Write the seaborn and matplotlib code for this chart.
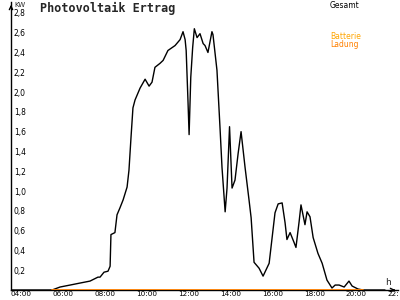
import matplotlib
matplotlib.use("Agg")
import matplotlib.pyplot as plt
from matplotlib.transforms import ScaledTranslation
import seaborn as sns
import pandas as pd

# --- data (hours of day, kW) ---
pv_hours = [3.88, 5.84, 6.22, 6.70, 7.17, 7.65, 8.03, 8.13, 8.32, 8.51, 8.61, 8.65,
            8.84, 8.94, 9.08, 9.23, 9.42, 9.51, 9.61, 9.70, 9.80, 10.04, 10.28, 10.47,
            10.61, 10.75, 10.99, 11.14, 11.37, 11.71, 11.95, 12.09, 12.19, 12.24,
            12.33, 12.38, 12.46, 12.55, 12.63, 12.76, 12.90, 13.05, 13.14, 13.28,
            13.47, 13.52, 13.71, 13.86, 13.95, 14.10, 14.19, 14.31, 14.43, 14.57,
            14.72, 14.86, 15.05, 15.24, 15.34, 15.48, 15.72, 15.91, 16.20, 16.48,
            16.63, 16.82, 16.96, 17.05, 17.20, 17.39, 17.48, 17.63, 17.72, 17.91,
            18.01, 18.15, 18.30, 18.53, 18.73, 18.96, 19.20, 19.35, 19.54, 19.78,
            20.01, 20.16, 20.44, 20.68, 21.73]
pv_kw = [0.00, 0.00, 0.03, 0.05, 0.07, 0.09, 0.13, 0.13, 0.18, 0.19, 0.24, 0.56,
         0.58, 0.76, 0.83, 0.91, 1.04, 1.21, 1.55, 1.84, 1.92, 2.04, 2.13, 2.06,
         2.10, 2.25, 2.29, 2.32, 2.42, 2.47, 2.53, 2.61, 2.53, 2.42,
         1.89, 1.57, 2.15, 2.45, 2.64, 2.55, 2.59, 2.49, 2.47, 2.40,
         2.61, 2.58, 2.22, 1.62, 1.24, 0.79, 1.03, 1.65, 1.03, 1.11,
         1.38, 1.60, 1.24, 0.91, 0.73, 0.28, 0.22, 0.14, 0.27, 0.78,
         0.87, 0.88, 0.68, 0.51, 0.58, 0.48, 0.43, 0.69, 0.86, 0.66,
         0.79, 0.74, 0.53, 0.37, 0.27, 0.10, 0.02, 0.05, 0.05, 0.03,
         0.09, 0.04, 0.01, 0.00, 0.00]
bat_hours = [5.84, 20.68]
bat_kw = [0.00, 0.00]

x_ticks = [4, 6, 8, 10, 12, 14, 16, 18, 20, 22]
x_labels = ["04:00", "06:00", "08:00", "10:00", "12:00", "14:00", "16:00",
            "18:00", "20:00", "22:"]
y_ticks = [0.2, 0.4, 0.6, 0.8, 1.0, 1.2, 1.4, 1.6, 1.8, 2.0, 2.2, 2.4, 2.6, 2.8]
y_labels = ["0,2", "0,4", "0,6", "0,8", "1,0", "1,2", "1,4", "1,6", "1,8",
            "2,0", "2,2", "2,4", "2,6", "2,8"]

title = "Photovoltaik Ertrag"
legend_total = "Gesamt"
legend_bat1 = "Batterie"
legend_bat2 = "Ladung"

sns.set_style("white")
plt.rcParams["font.family"] = ["DejaVu Sans"]

fig = plt.figure(figsize=(4, 3), dpi=100)
ax = fig.add_axes([11 / 400, 10 / 300, 387 / 400, 288 / 300])

df_pv = pd.DataFrame({"t": pv_hours, "kw": pv_kw})
df_bat = pd.DataFrame({"t": bat_hours, "kw": bat_kw})

sns.lineplot(data=df_pv, x="t", y="kw", ax=ax, color="black", linewidth=1.0,
             estimator=None, sort=False, zorder=3)
sns.lineplot(data=df_bat, x="t", y="kw", ax=ax, color="#ff8000", linewidth=1.3,
             estimator=None, sort=False, zorder=4)

ax.set_xlim(3.88, 22.35)
ax.set_ylim(0, 2.91)
ax.set_xlabel("")
ax.set_ylabel("")

for s in ["top", "right"]:
    ax.spines[s].set_visible(False)
for s in ["left", "bottom"]:
    ax.spines[s].set_color("black")
    ax.spines[s].set_linewidth(1.0)

ax.set_xticks(x_ticks)
ax.set_xticklabels(x_labels)
ax.set_yticks(y_ticks)
ax.set_yticklabels(y_labels)
ax.tick_params(axis="both", direction="inout", length=6, width=1, colors="black",
               labelsize=5.5)
ax.tick_params(axis="y", pad=-5)
ax.tick_params(axis="x", pad=-2.5, labelsize=5.2)
for lbl in ax.get_yticklabels():
    lbl.set_ha("left")
for lbl in ax.get_xticklabels():
    lbl.set_ha("left")
    lbl.set_transform(lbl.get_transform() + ScaledTranslation(-3 / 100, 0, fig.dpi_scale_trans))

# axis arrows
ax.annotate("", xy=(0, 1.0), xytext=(0, 0.97), xycoords="axes fraction",
            arrowprops=dict(arrowstyle="->", color="black", lw=1.0, mutation_scale=6))
ax.annotate("", xy=(1.0, 0), xytext=(0.98, 0), xycoords="axes fraction",
            arrowprops=dict(arrowstyle="->", color="black", lw=1.0, mutation_scale=6))

# texts
fig.text(14 / 400, 1 - 2 / 300, "KW", fontsize=5, va="top", ha="left")
fig.text(385 / 400, 1 - 278 / 300, "h", fontsize=6.5, va="top", ha="left")
fig.text(40 / 400, 1 - 2 / 300, title, fontsize=8.5, fontweight="bold",
         family="DejaVu Sans Mono", va="top", ha="left")
fig.text(330 / 400, 1 - 1 / 300, legend_total, fontsize=5.5, va="top", ha="left",
         color="black")
fig.text(330 / 400, 1 - 32 / 300, legend_bat1, fontsize=5.5, va="top", ha="left",
         color="#ffa500")
fig.text(330 / 400, 1 - 40 / 300, legend_bat2, fontsize=5.5, va="top", ha="left",
         color="#ff8000")

fig.savefig("out.png", dpi=100)
